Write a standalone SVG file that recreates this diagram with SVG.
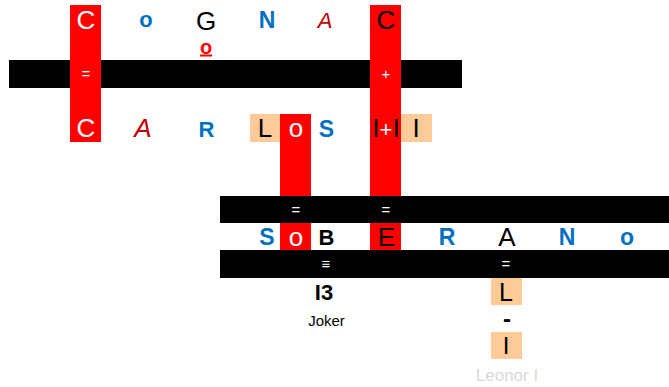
<svg xmlns="http://www.w3.org/2000/svg" width="669" height="387" viewBox="0 0 669 387">
<style>
text{font-family:"Liberation Sans",Arial,sans-serif;text-anchor:middle}
.n{font-size:26px;fill:#000}
.w{fill:#fff}
.b{font-weight:bold;fill:#0070c0}
.i{font-style:italic;fill:#c00000}
.bar{fill:#000}
.red{fill:#ff0000}
.pe{fill:#fdca98}
.lab{font-size:15px;fill:#fff}
</style>
<rect width="669" height="387" fill="#fff"/>
<g id="bars">
<rect class="bar" x="9" y="60" width="453" height="28"/>
<rect class="red" x="70" y="5" width="31" height="137"/>
<rect class="red" x="370" y="5" width="31" height="245"/>
<rect class="red" x="280" y="114" width="31" height="136"/>
<rect class="pe" x="250" y="114" width="30" height="28"/>
<rect class="pe" x="401" y="114" width="31" height="28"/>
<rect class="bar" x="220" y="196" width="449" height="27"/>
<rect class="bar" x="220" y="250" width="449" height="28"/>
<rect class="pe" x="491" y="278" width="31" height="27"/>
<rect class="pe" x="491" y="332" width="31" height="27"/>
</g>
<g id="labels">
<text class="lab" x="86" y="79">=</text>
<text class="lab" x="386" y="79">+</text>
<text class="lab" x="296" y="215">=</text>
<text class="lab" x="386" y="215">=</text>
<text class="lab" x="326" y="269" font-family="DejaVu Sans">≡</text>
<text class="lab" x="506" y="269">=</text>
</g>
<g id="row1">
<text class="n w" x="86" y="29">C</text>
<text class="b" x="146" y="27" font-size="22">o</text>
<text class="n" x="206" y="29.5" font-size="25">G</text>
<text class="b" x="267" y="28" font-size="23">N</text>
<text class="i" x="325" y="28" font-size="22">A</text>
<text class="n" x="386" y="29">C</text>
<text x="206" y="53.5" font-size="20" font-weight="bold" fill="#ff0000" text-decoration="underline">o</text>
</g>
<g id="row2">
<text class="n w" x="86" y="137">C</text>
<text class="i" x="143" y="137" font-size="26">A</text>
<text class="b" x="206.5" y="137" font-size="22">R</text>
<text class="n" x="265" y="137">L</text>
<text class="n w" x="296" y="137">o</text>
<text class="b" x="326.5" y="137" font-size="23">S</text>
<text class="n" x="386" y="137">I<tspan fill="#fff" font-size="22">+</tspan>I</text>
<text class="n" x="416" y="137">I</text>
</g>
<g id="row3">
<text class="b" x="267" y="245" font-size="23">S</text>
<text class="n w" x="296" y="245.5">o</text>
<text x="326.5" y="244.5" font-size="22" font-weight="bold" fill="#000">B</text>
<text class="n" x="386.5" y="245.5">E</text>
<text class="b" x="447" y="245" font-size="23">R</text>
<text class="n" x="507" y="245.5">A</text>
<text class="b" x="567" y="244.5" font-size="23">N</text>
<text class="b" x="627" y="245" font-size="23">o</text>
</g>
<g id="joker">
<text x="324" y="299.5" font-size="22" font-weight="bold" fill="#000">I3</text>
<text x="326.5" y="326" font-size="15" fill="#000">Joker</text>
</g>
<g id="leonor">
<text x="506" y="300.5" font-size="25" fill="#000">L</text>
<text x="507" y="327" font-size="24" font-weight="bold" fill="#000">-</text>
<text x="506" y="354" font-size="24" fill="#000">I</text>
<text x="507" y="380.5" font-size="17" fill="#d9d9d9">Leonor I</text>
</g>
</svg>
